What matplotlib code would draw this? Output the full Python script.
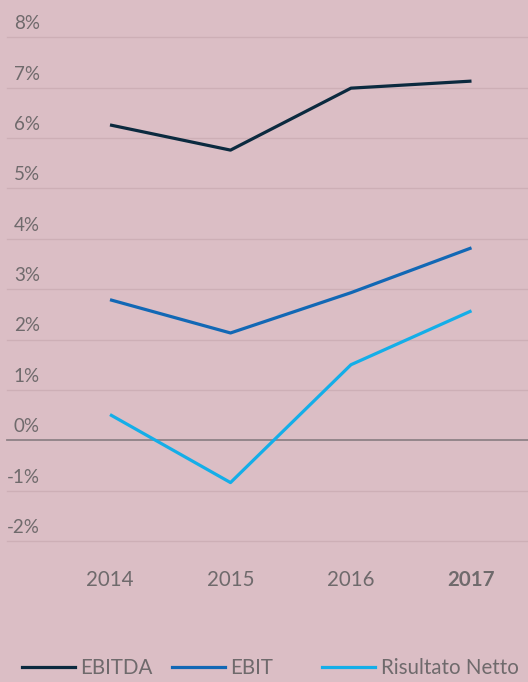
import numpy as np
import matplotlib
matplotlib.use("Agg")
import matplotlib.pyplot as plt
from matplotlib.lines import Line2D

# dati (% sul fatturato)
anni = [2014, 2015, 2016, 2017]
ebitda = [6.26, 5.76, 6.99, 7.13]
ebit = [2.79, 2.13, 2.93, 3.82]
netto = [0.51, -0.84, 1.50, 2.57]
serie = ["EBITDA", "EBIT", "Risultato Netto"]
colori = ["#0b2a3f", "#1268b5", "#14aee8"]
tick_y = [-2, -1, 0, 1, 2, 3, 4, 5, 6, 7, 8]

sfondo = "#dbbec5"
grigio = "#6f6a6c"
plt.rcParams['font.family'] = ['Lato', 'DejaVu Sans']

W, H = 528, 682
fig = plt.figure(figsize=(W / 100, H / 100), dpi=100, facecolor=sfondo)
ax = fig.add_axes([0, 1 - 560 / H, 1, 560 / H])
ax.set_facecolor(sfondo)

px_x = 120.5
px_y = 50.4
ax.set_xlim(2014 - 110 / px_x, 2014 + (W - 110) / px_x)
ax.set_ylim(-2 - 19 / px_y, 8 + 37.3 / px_y)
for s in ax.spines.values():
    s.set_visible(False)
ax.set_xticks([])
ax.set_yticks([])

# griglia ed etichette asse y
for v in tick_y:
    if v == 0:
        ax.axhline(v, xmin=7 / W, xmax=1, color="#8e8286", lw=1.3, zorder=1)
    else:
        ax.axhline(v, xmin=7 / W, xmax=1, color="#cdafb6", lw=1.0, zorder=1)
    ax.text(40 / W, v + 0.27, f"{v}%", transform=ax.get_yaxis_transform(),
            ha="right", va="center", fontsize=13.5, color=grigio)

# linee
for vals, col in zip([ebitda, ebit, netto], colori):
    ax.plot(anni, vals, color=col, lw=2.3, solid_capstyle="butt", zorder=3)

# anni
for a in anni:
    ax.text(a, -2.77, str(a), ha="center", va="center", fontsize=14.8,
            color=grigio, fontweight="bold" if a == 2017 else "normal",
            clip_on=False)

# legenda
pos_x = [22, 172, 322]
for nome, col, x0 in zip(serie, colori, pos_x):
    h = Line2D([], [], color=col, lw=2.3)
    leg = fig.legend([h], [nome], loc="center left",
                     bbox_to_anchor=(x0 / W, 1 - 668 / H),
                     frameon=False, fontsize=14.8, handlelength=2.6,
                     handletextpad=0.25, borderaxespad=0, borderpad=0)
    for t in leg.get_texts():
        t.set_color(grigio)

fig.savefig("out.png", dpi=100, facecolor=sfondo)
